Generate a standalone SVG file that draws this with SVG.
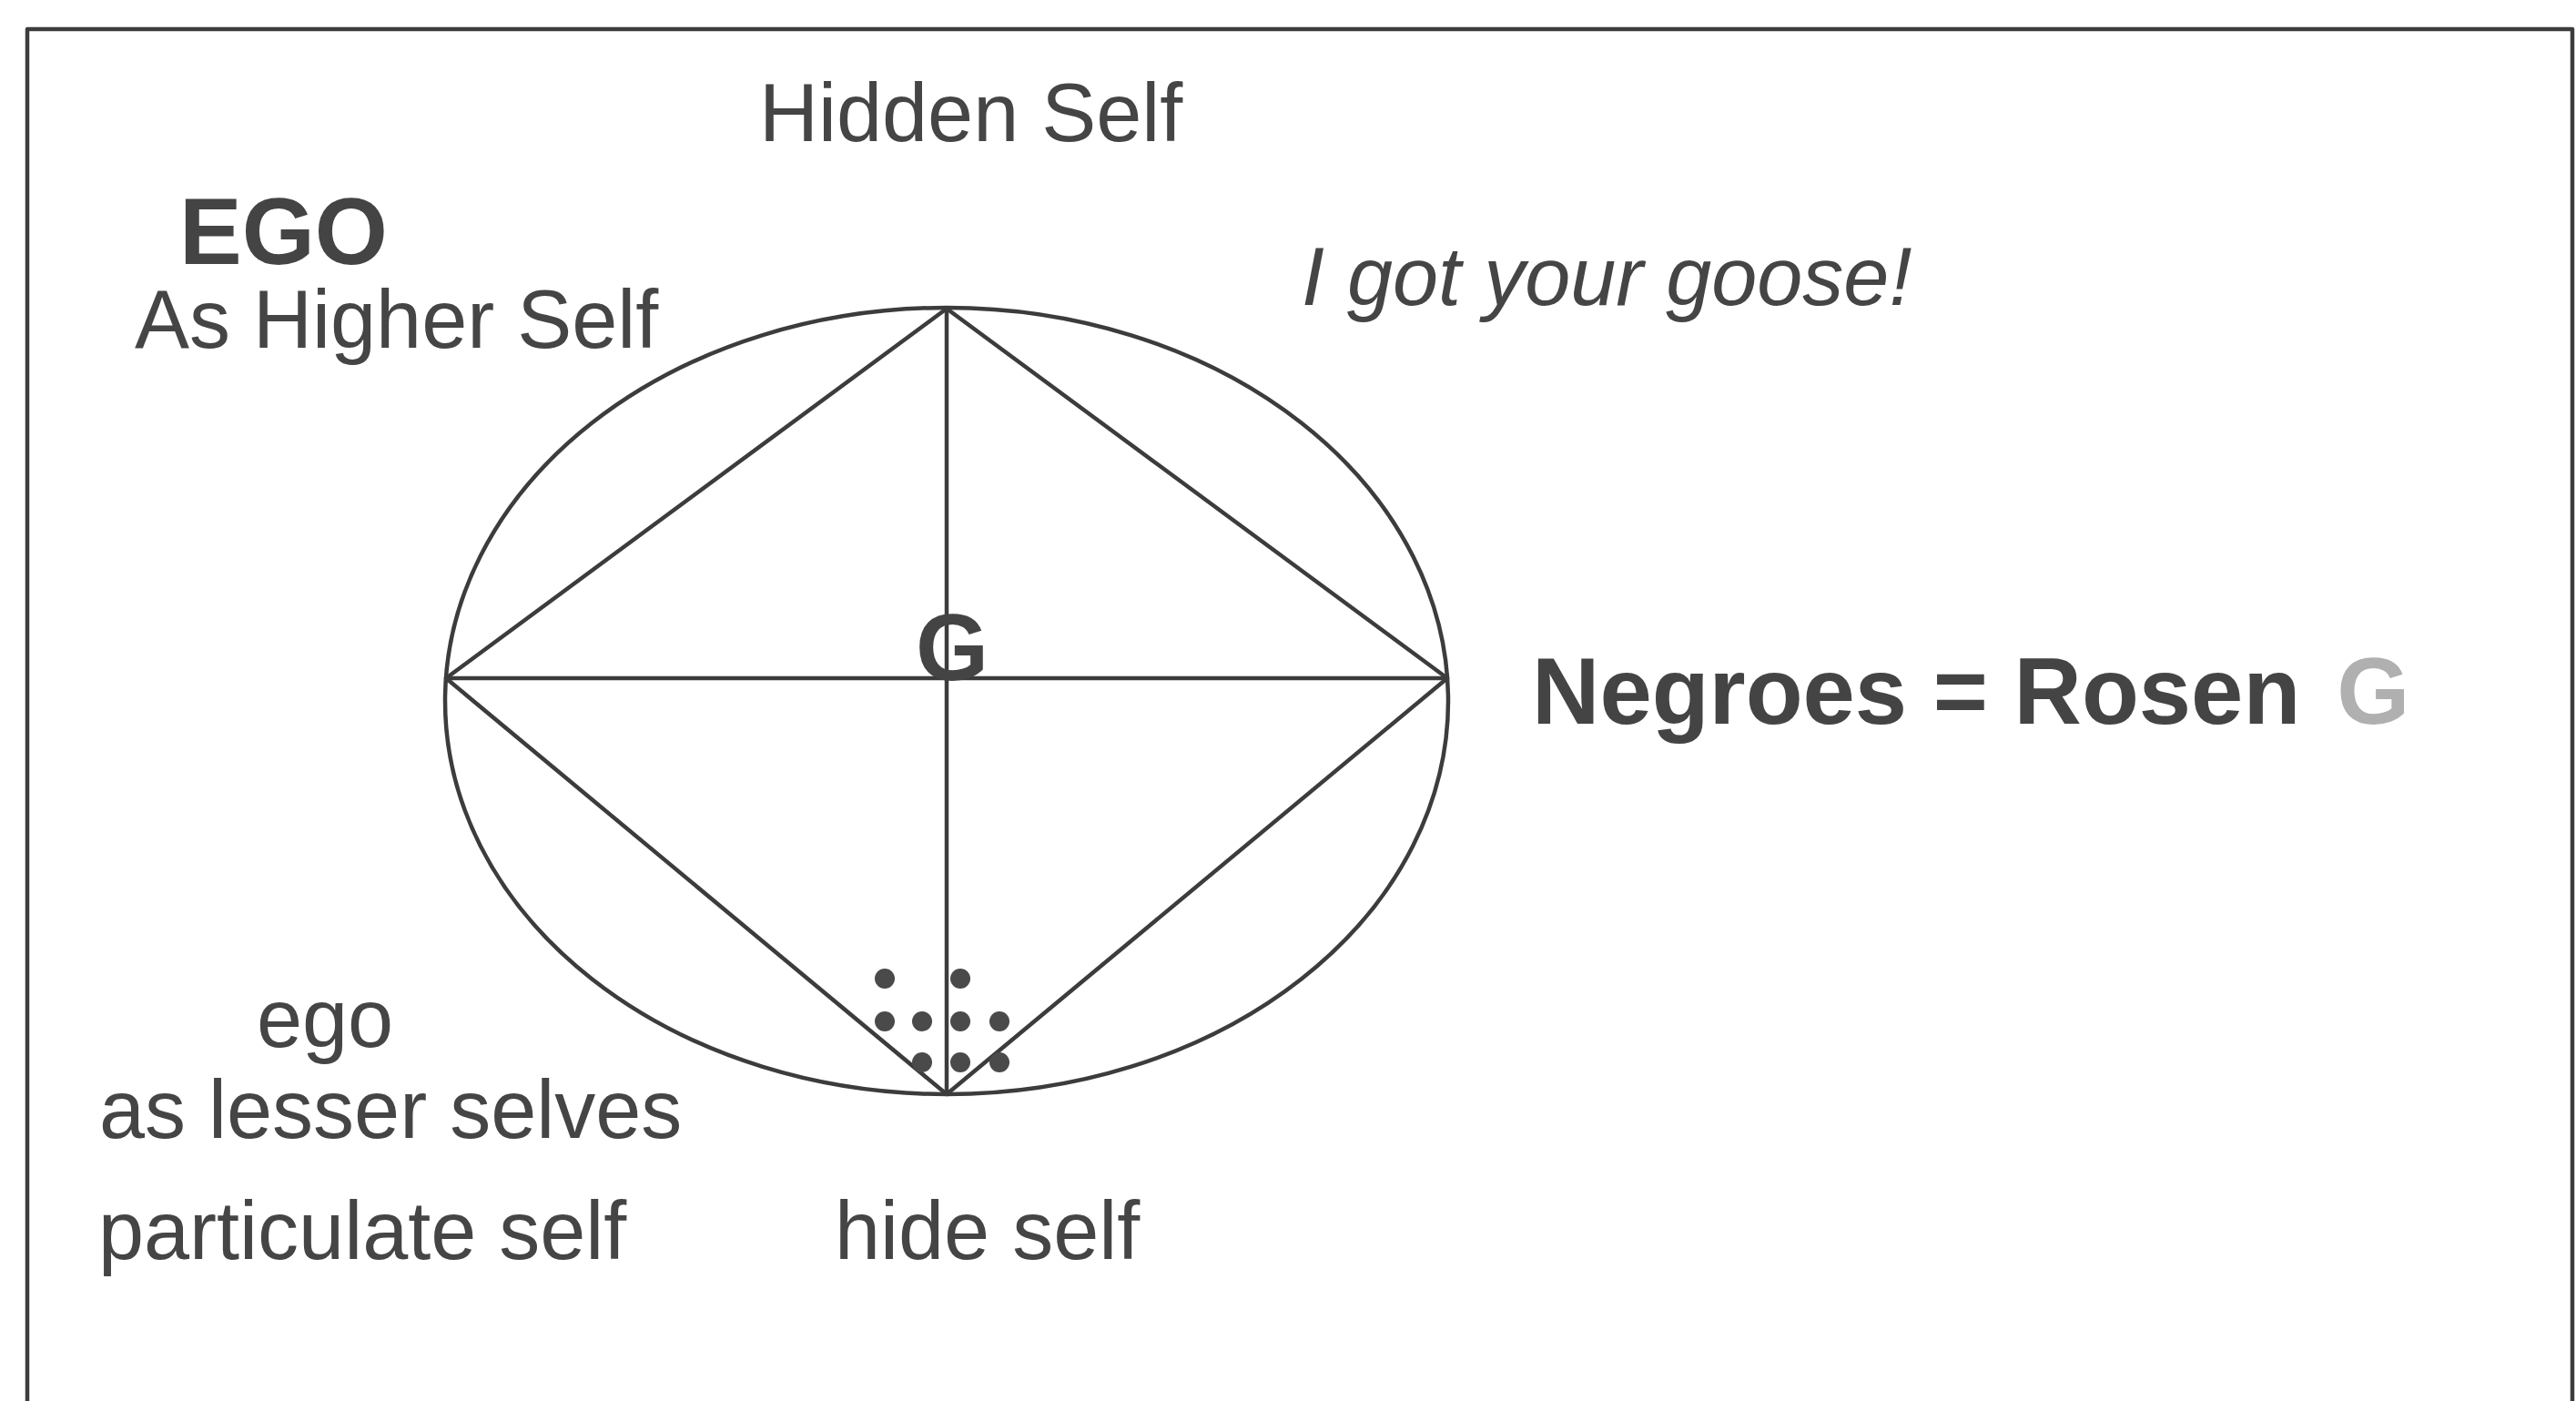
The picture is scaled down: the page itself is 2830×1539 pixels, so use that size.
<svg xmlns="http://www.w3.org/2000/svg" width="2830" height="1539" viewBox="0 0 2830 1539">
<style>
.ln{fill:none;stroke:#3c3c3c;stroke-width:4.5;stroke-linejoin:round}
.t{font-family:"Liberation Sans",Arial,sans-serif;fill:#454545;font-size:90px}
.b{font-weight:bold;font-size:103px;fill:#444}
.dot{fill:#4a4a4a}
</style>
<rect width="2830" height="1539" fill="#fff"/>
<path id="frame" class="ln" stroke-width="5" d="M30,1545 V32 H2826 V1545"/>
<g id="ellipse"><ellipse class="ln" cx="1040" cy="770" rx="551" ry="432"/></g>
<g id="connectors">
<polygon class="ln" points="1040,339 1590,745 1040,1202 490,745"/>
<line class="ln" x1="1040" y1="339" x2="1040" y2="1202"/>
<line class="ln" x1="490" y1="745" x2="1590" y2="745"/>
</g>
<g id="dots">
<circle class="dot" cx="972" cy="1075" r="11"/>
<circle class="dot" cx="1055" cy="1075" r="11"/>
<circle class="dot" cx="972" cy="1122" r="11"/>
<circle class="dot" cx="1013" cy="1122" r="11"/>
<circle class="dot" cx="1055" cy="1122" r="11"/>
<circle class="dot" cx="1098" cy="1122" r="11"/>
<circle class="dot" cx="1013" cy="1167" r="11"/>
<circle class="dot" cx="1055" cy="1167" r="11"/>
<circle class="dot" cx="1098" cy="1167" r="11"/>
</g>
<g id="center-g"><text class="t b" x="1046" y="747" text-anchor="middle" font-size="116">G</text></g>
<g id="hidden-self"><text class="t" x="834" y="155">Hidden Self</text></g>
<g id="ego-higher"><text class="t b" x="197" y="290">EGO</text><text class="t" x="148" y="382">As Higher Self</text></g>
<g id="goose"><text class="t" x="1430" y="335" font-style="italic" font-size="89">I got your goose!</text></g>
<g id="negroes"><text class="t b" x="1683" y="795" font-size="105">Negroes = Rosen<tspan fill="#b0b0b0" dx="40">G</tspan></text></g>
<g id="ego-lesser"><text class="t" x="282" y="1150" font-size="86">ego</text><text class="t" x="109" y="1250">as lesser selves</text></g>
<g id="particulate"><text class="t" x="108" y="1383">particulate self</text></g>
<g id="hide"><text class="t" x="917" y="1383">hide self</text></g>
</svg>
